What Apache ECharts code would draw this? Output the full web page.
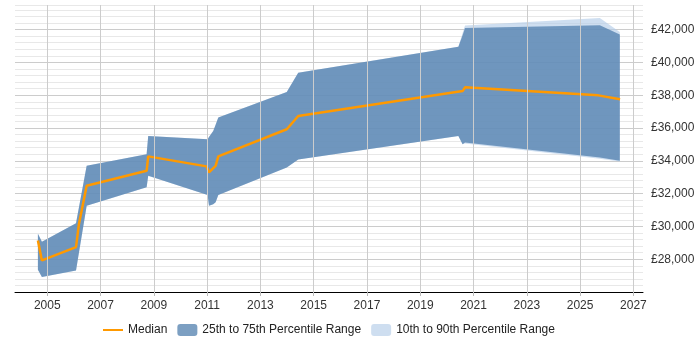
<!DOCTYPE html>
<html>
<head>
<meta charset="utf-8">
<script src="https://cdn.jsdelivr.net/npm/echarts@6/dist/echarts.min.js"></script>
<style>
  html, body { margin: 0; padding: 0; background: #fff; }
  #main { width: 700px; height: 350px; }
</style>
</head>
<body>
<div id="main"></div>
<script>
// band edges, years as decimals
const bandYears = [2004.65, 2004.80, 2006.08, 2006.48, 2008.73, 2008.79, 2011.02, 2011.07, 2011.23, 2011.32, 2011.42, 2013.99, 2014.42, 2020.43, 2020.59, 2020.68, 2025.74, 2026.49];
const p90 = [29546, 29060, 30196, 33695, 34406, 35518, 35318, 35450, 35822, 36200, 36636, 38191, 39370, 40949, 41800, 42243, 42711, 41860];
const p75 = [29546, 29060, 30196, 33695, 34406, 35518, 35318, 35450, 35822, 36200, 36636, 38191, 39370, 40949, 41650, 42103, 42261, 41696];
const p25 = [27350, 26916, 27317, 31265, 32383, 33088, 31916, 31265, 31350, 31472, 31916, 33598, 34080, 35518, 35014, 35117, 34200, 34000];
const p10 = [27350, 26916, 27317, 31265, 32383, 33088, 31916, 31265, 31350, 31472, 31916, 33598, 34080, 35518, 35014, 35050, 34130, 33950];

const medianYears = [2004.65, 2004.80, 2006.08, 2006.19, 2006.48, 2008.73, 2008.79, 2010.98, 2011.07, 2011.32, 2011.42, 2013.99, 2014.42, 2020.59, 2020.68, 2025.68, 2026.50];
const median = [29140, 27925, 28740, 30150, 32480, 33390, 34270, 33660, 33295, 33695, 34270, 35925, 36733, 38252, 38480, 37990, 37748];

const yearTicks = [2005, 2007, 2009, 2011, 2013, 2015, 2017, 2019, 2021, 2023, 2025, 2027];

const font = "'Liberation Sans', Arial, sans-serif";

function bandSeries(name, lo, hi, color) {
  return {
    name: name,
    type: 'custom',
    itemStyle: { color: color },
    data: [0],
    z: 2,
    silent: true,
    renderItem: function (params, api) {
      const pts = [];
      for (let i = 0; i < bandYears.length; i++) {
        pts.push(api.coord([bandYears[i], hi[i]]));
      }
      for (let i = bandYears.length - 1; i >= 0; i--) {
        pts.push(api.coord([bandYears[i], lo[i]]));
      }
      return {
        type: 'polygon',
        shape: { points: pts },
        style: { fill: color }
      };
    }
  };
}

const chart = echarts.init(document.getElementById('main'));

const option = {
  animation: false,
  textStyle: { fontFamily: font },
  grid: { left: 15, right: 57, top: 5, bottom: 58, outerBoundsMode: 'none' },
  legend: {
    bottom: 9,
    left: 97,
    itemWidth: 20,
    itemHeight: 12,
    itemGap: 10,
    textStyle: { fontSize: 12, color: '#222', fontFamily: font },
    data: [
      { name: 'Median', itemStyle: { opacity: 0 } },
      '25th to 75th Percentile Range',
      '10th to 90th Percentile Range'
    ]
  },
  xAxis: {
    type: 'value',
    min: 2003.79,
    max: 2027.36,
    axisLine: { lineStyle: { color: '#000', width: 1 } },
    axisTick: { show: true, length: 4, customValues: yearTicks, lineStyle: { color: '#bbb' } },
    axisLabel: {
      customValues: yearTicks,
      color: '#333',
      fontSize: 12,
      margin: 8,
      fontFamily: font,
      formatter: function (v) { return String(v); }
    },
    splitLine: { show: false }
  },
  yAxis: {
    type: 'value',
    position: 'right',
    min: 26000,
    max: 43500,
    interval: 400,
    axisLine: { show: false },
    axisTick: { show: false },
    axisLabel: {
      color: '#333',
      fontSize: 12,
      margin: 8,
      fontFamily: font,
      formatter: function (v) {
        if (v % 2000 !== 0 || v <= 26000) return '';
        return '£' + v.toLocaleString('en-GB');
      }
    },
    splitLine: {
      show: true,
      lineStyle: { color: ['#ccc', '#e8e8e8', '#e8e8e8', '#e8e8e8', '#e8e8e8'] }
    }
  },
  series: [
    {
      // vertical year gridlines
      name: 'grid',
      type: 'line',
      data: [],
      z: 1,
      silent: true,
      markLine: {
        silent: true,
        symbol: 'none',
        animation: false,
        label: { show: false },
        lineStyle: { color: '#ccc', width: 1, type: 'solid' },
        data: yearTicks.map(y => ({ xAxis: y }))
      }
    },
    bandSeries('10th to 90th Percentile Range', p10, p90, 'rgba(180,205,232,0.65)'),
    bandSeries('25th to 75th Percentile Range', p25, p75, 'rgba(80,127,173,0.75)'),
    {
      name: 'Median',
      type: 'line',
      data: medianYears.map((x, i) => [x, median[i]]),
      showSymbol: false,
      symbol: 'none',
      z: 3,
      lineStyle: { color: '#ff9900', width: 2.5 },
      itemStyle: { color: '#ff9900' }
    }
  ]
};

chart.setOption(option);
</script>
</body>
</html>
